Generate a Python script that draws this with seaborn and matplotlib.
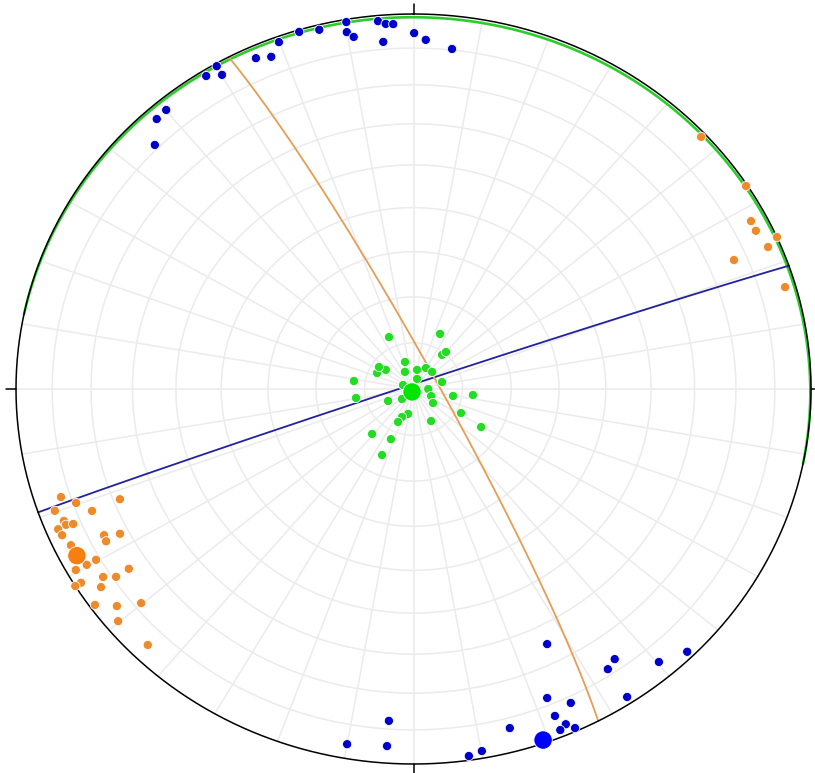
import numpy as np
import pandas as pd
import matplotlib
matplotlib.use("Agg")
import matplotlib.pyplot as plt
import seaborn as sns

# ---- data: trend / plunge (degrees), lower hemisphere equal-area net ----
blue_trend = [350.2, 354.8, 355.9, 357.0, 0.1, 350.0, 350.9, 355.3, 346.1, 343.2, 339.9, 335.8, 338.0,
              330.1, 328.0, 330.1, 320.1, 318.1, 315.0, 1.9, 6.1,
              153.7, 144.9, 146.8, 139.7, 135.5, 146.8, 157.8, 154.7, 157.8, 156.8, 157.9, 155.8,
              165.0, 169.9, 171.9, 184.0, 190.0, 184.0]
blue_plunge = [0.8, 1.7, 2.7, 2.9, 5.7, 3.8, 5.5, 7.9, 1.5, 0.6, 1.7, 3.7, 5.0, 0.8, 1.8, 3.8, 3.4, 3.7,
               8.8, 7.6, 9.7, 25.1, 13.0, 11.7, 5.1, 2.0, 2.1, 12.0, 8.2, 6.5, 3.1, 2.1, 1.0, 7.1, 2.2,
               1.3, 12.3, 4.3, 5.1]
orange_trend = [47.1, 57.1, 62.2, 63.9, 66.1, 67.0, 66.9, 73.8, 252.0, 250.3, 248.3, 250.2, 248.1, 248.2,
                247.5, 247.2, 247.3, 246.2, 243.4, 242.3, 242.4, 244.2, 240.3, 240.3, 240.4, 236.2, 237.3,
                236.2, 238.3, 238.3, 236.1, 234.3, 232.2, 230.2, 230.2, 224.4]
orange_plunge = [1.4, 0.4, 4.5, 4.6, 0.0, 3.5, 13.4, 3.0, 7.5, 10.8, 21.6, 4.6, 13.9, 5.9, 6.0, 7.9, 3.5,
                 3.8, 14.0, 13.7, 17.8, 4.8, 8.9, 6.0, 2.6, 14.9, 8.0, 10.9, 1.9, 0.0, 5.9, 1.5, 6.2, 11.8,
                 3.7, 5.0]
green_trend = [336.0, 24.4, 38.3, 39.6, 343.5, 294.9, 306.2, 304.1, 334.7, 9.9, 29.3, 45.8, 18.3, 278.1,
               75.4, 292.0, 90.0, 113.0, 127.3, 260.6, 243.5, 100.6, 96.1, 118.2, 120.8, 191.7, 201.2,
               203.9, 152.7, 221.0, 203.0, 204.2, 227.3]
green_plunge = [77.7, 76.9, 80.6, 79.6, 83.9, 81.8, 83.0, 81.5, 85.9, 85.8, 84.8, 84.7, 87.7, 77.7, 84.0,
                87.7, 87.0, 86.1, 85.0, 78.1, 84.2, 81.8, 77.8, 79.0, 73.9, 84.5, 83.5, 82.2, 82.2, 77.1,
                78.2, 74.3, 86.8]
sets = ["blue", "orange", "green"]
mean_trend = [160.8, 242.3, 205.3]
mean_plunge = [1.0, 4.9, 89.3]
# planes (great circles): dip direction / dip
plane_dipdir = [340.8, 62.3, 11.5]
plane_dip = [89.0, 85.1, 1.0]

point_colors = {"blue": "#0000cd", "orange": "#ee8a2a", "green": "#22dd22"}
mean_colors = {"blue": "#0000ff", "orange": "#f57f10", "green": "#00e600"}
line_colors = {"blue": "#22229e", "orange": "#e69d55", "green": "#2ccc2c"}


def project(trend, plunge):
    t = np.radians(np.asarray(trend, float))
    p = np.radians(np.asarray(plunge, float))
    r = np.sqrt(1 - np.sin(p))
    return r * np.sin(t), r * np.cos(t)


def great_circle(dipdir, dip, n=361):
    dd, d = np.radians(dipdir), np.radians(dip)
    s = np.array([np.sin(dd - np.pi / 2), np.cos(dd - np.pi / 2), 0.0])
    dv = np.array([np.sin(dd) * np.cos(d), np.cos(dd) * np.cos(d), -np.sin(d)])
    t = np.linspace(0, np.pi, n)
    v = np.outer(np.cos(t), s) + np.outer(np.sin(t), dv)
    den = np.sqrt(1 - v[:, 2])
    return v[:, 0] / den, v[:, 1] / den


sns.set_style("white")
fig = plt.figure(figsize=(8.15, 7.73), dpi=100)
ax = fig.add_axes([16 / 815, 9 / 773, 795 / 815, 750 / 773])

# grid: small circles every 10 deg of plunge, radial lines every 10 deg of trend
grid_kw = dict(color="#ebebeb", lw=1.1, zorder=1)
az = np.linspace(0, 360, 721)
for pl in range(10, 90, 10):
    gx, gy = project(az, np.full_like(az, pl))
    ax.plot(gx, gy, **grid_kw)
for tr in range(0, 360, 10):
    gx, gy = project([tr, tr], [90, 0])
    ax.plot(gx, gy, **grid_kw)

# primitive circle and N/E/S/W ticks
px_, py_ = project(az, np.zeros_like(az))
gcx, gcy = great_circle(plane_dipdir[2], plane_dip[2])
ax.plot(gcx, gcy, color=line_colors["green"], lw=1.9, zorder=2, clip_on=False)
ax.plot(px_, py_, color="black", lw=1.1, zorder=3, clip_on=False)
tx, ty = 10 / 397.5, 10 / 375
for x0, y0, x1, y1 in [(0, 1, 0, 1 + ty), (1, 0, 1 + tx, 0), (0, -1, 0, -1 - ty), (-1, 0, -1 - tx, 0)]:
    ax.plot([x0, x1], [y0, y1], color="black", lw=1.1, zorder=3, clip_on=False)

# great circles for blue and orange planes
for i in range(2):
    gx, gy = great_circle(plane_dipdir[i], plane_dip[i])
    ax.plot(gx, gy, color=line_colors[sets[i]], lw=1.3, zorder=2)

# poles
frames = []
for name, tr, pl in [("blue", blue_trend, blue_plunge), ("orange", orange_trend, orange_plunge),
                     ("green", green_trend, green_plunge)]:
    x, y = project(tr, pl)
    frames.append(pd.DataFrame({"x": x, "y": y, "set": name}))
df = pd.concat(frames, ignore_index=True)
sns.scatterplot(data=df, x="x", y="y", hue="set", palette=point_colors, s=44, edgecolor="white",
                linewidth=0.6, legend=False, ax=ax, zorder=4, clip_on=False)

mx, my = project(mean_trend, mean_plunge)
mdf = pd.DataFrame({"x": mx, "y": my, "set": sets})
sns.scatterplot(data=mdf, x="x", y="y", hue="set", palette=mean_colors, s=175, edgecolor="white",
                linewidth=0.6, legend=False, ax=ax, zorder=5, clip_on=False)
ax.set_xlim(-1, 1)
ax.set_ylim(-1, 1)
ax.axis("off")

fig.savefig("out.png", dpi=100)
